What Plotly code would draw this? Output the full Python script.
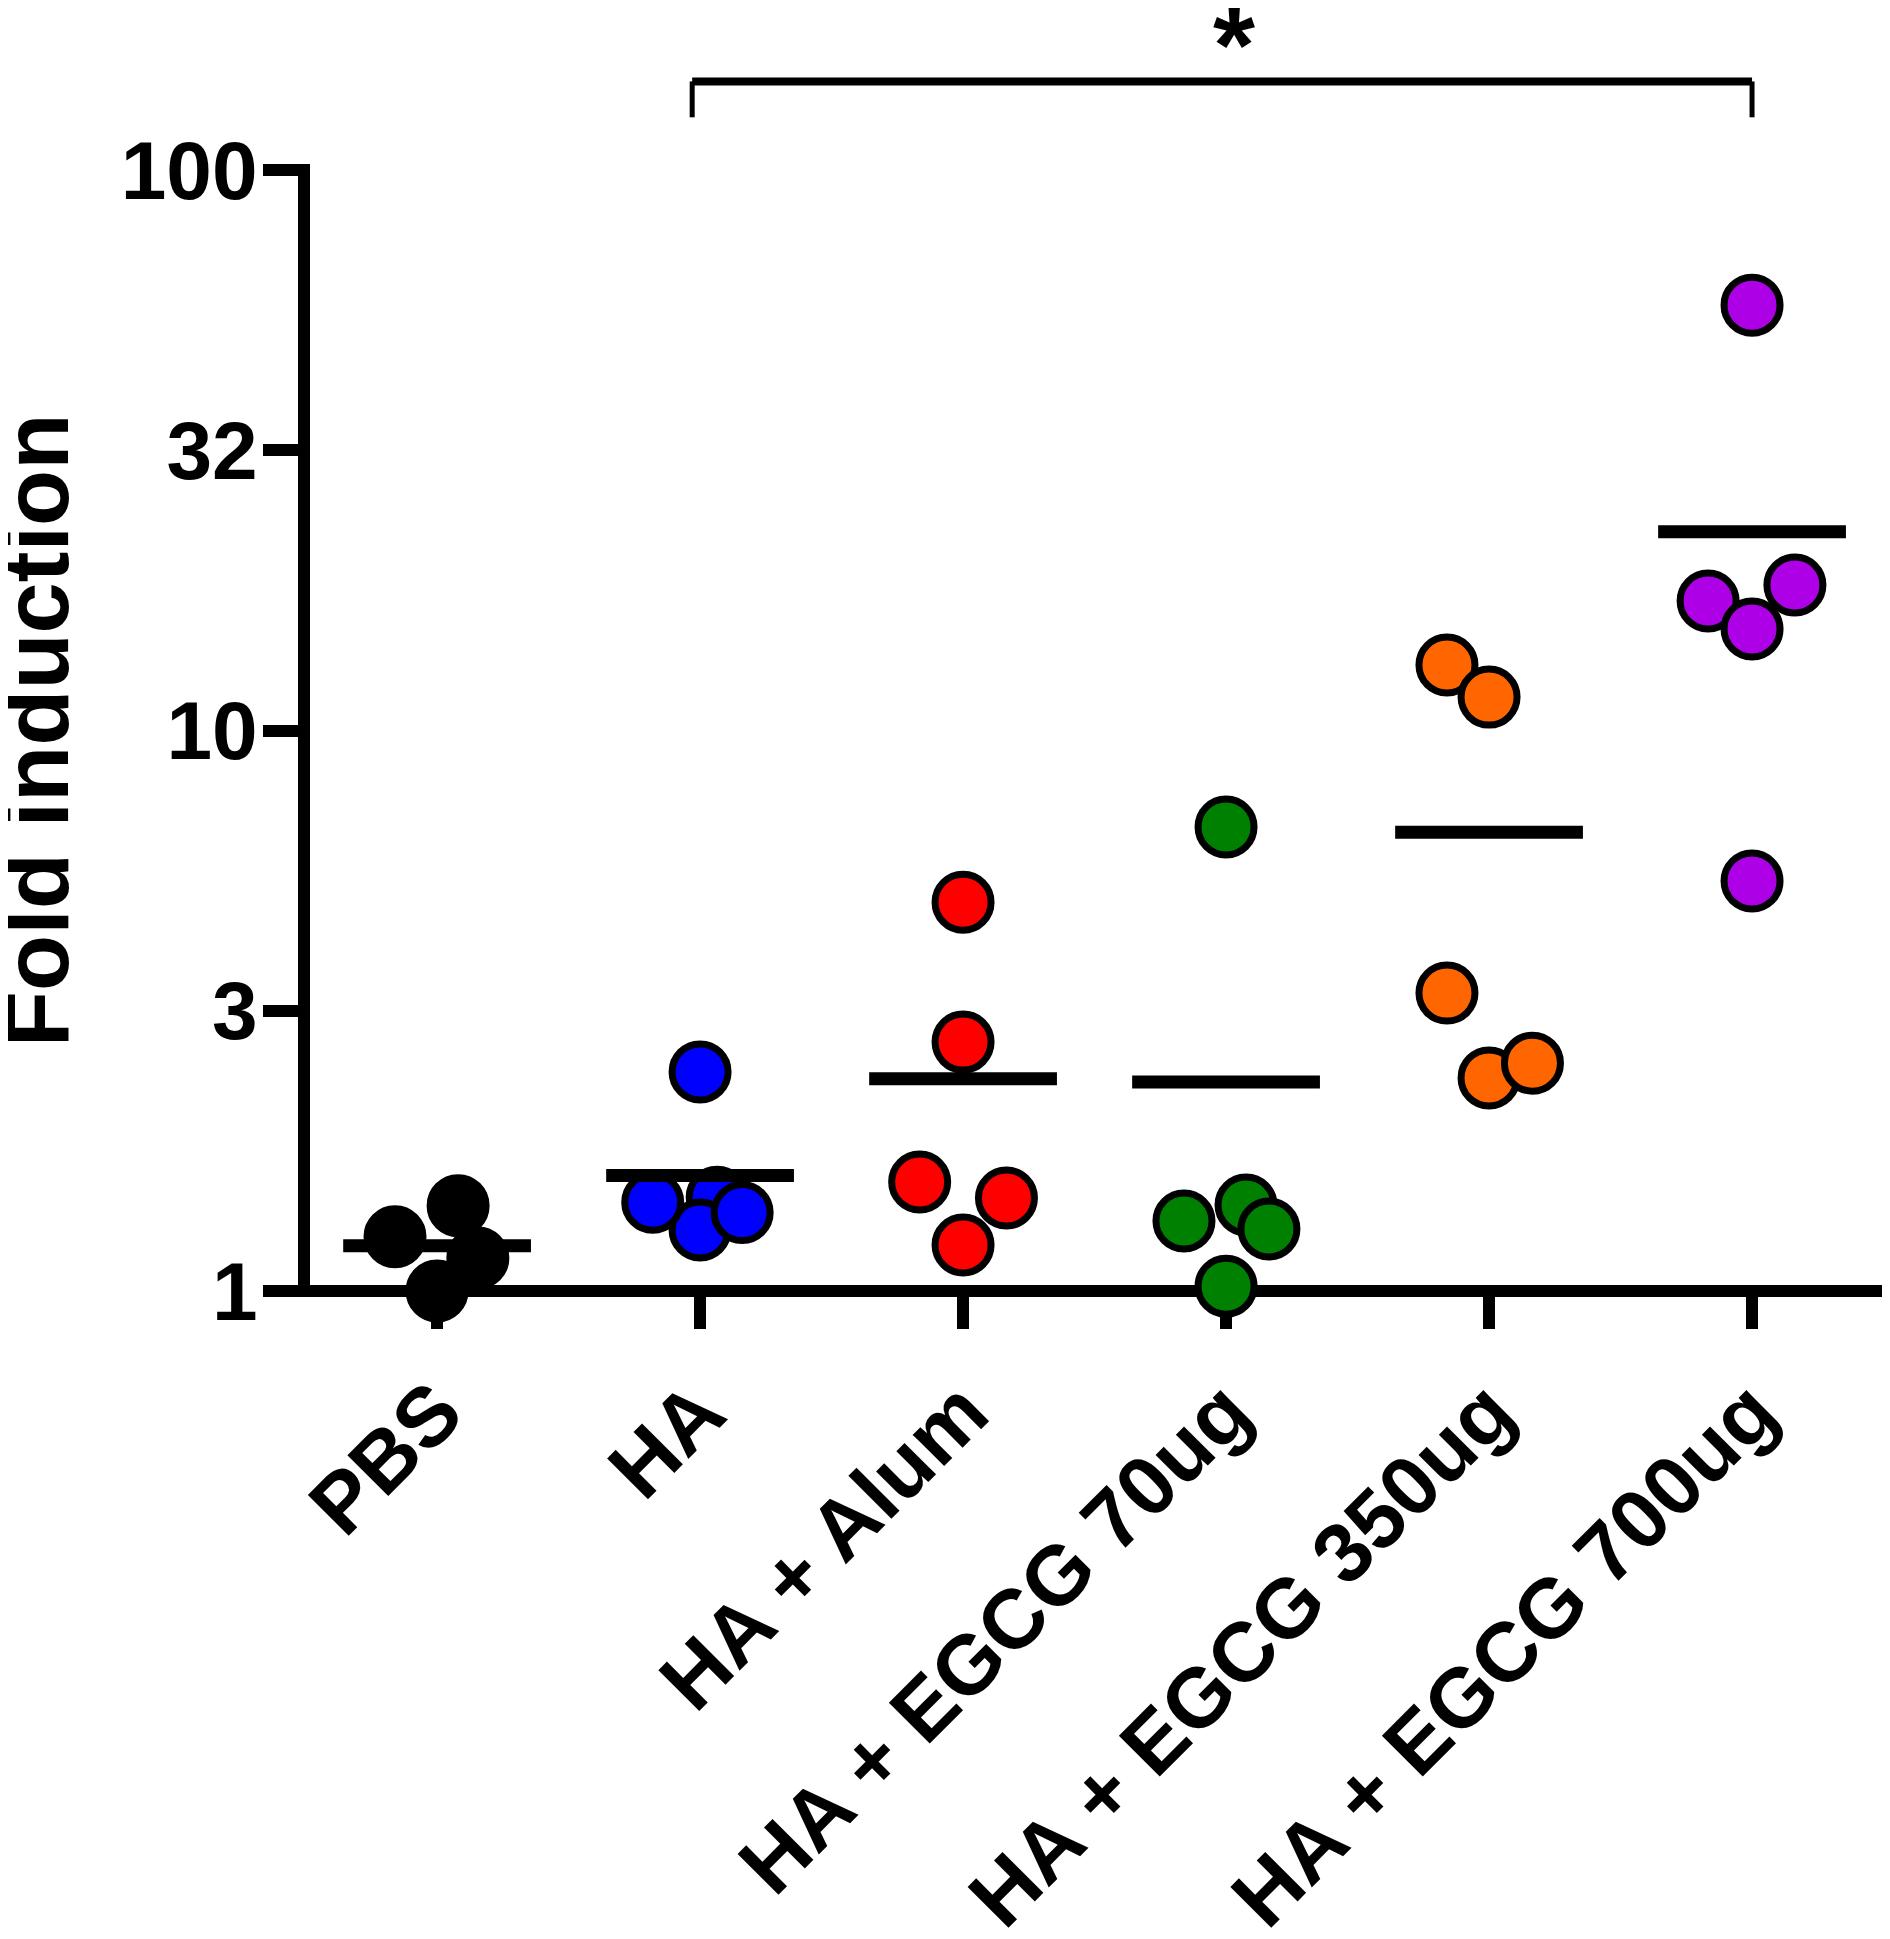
import numpy as np
import plotly.graph_objects as go

###### Data

GROUPS = ["PBS", "HA", "HA + Alum", "HA + EGCG 70ug", "HA + EGCG 350ug", "HA + EGCG 700ug"]

pbs = [1.25, 1.42, 1.145, 1.0]
ha = [1.47, 1.285, 1.44, 1.38, 2.46]
ha_alum = [4.94, 2.78, 1.565, 1.465, 1.208]
egcg_70 = [6.73, 1.424, 1.333, 1.29, 1.02]
egcg_350 = [13.09, 11.47, 3.40, 2.40, 2.55]
egcg_700 = [57.4, 17.02, 15.18, 18.18, 5.39]

# horizontal scatter offsets of each point (category units), as in the column scatter
pbs_dx = [-0.16, 0.08, 0.155, 0.0]
ha_dx = [0.065, 0.0, -0.18, 0.16, 0.0]
ha_alum_dx = [0.0, 0.0, -0.165, 0.165, 0.0]
egcg_70_dx = [0.0, 0.076, -0.16, 0.163, 0.0]
egcg_350_dx = [-0.16, 0.0, -0.16, 0.0, 0.165]
egcg_700_dx = [0.0, -0.167, 0.0, 0.163, 0.0]

Y_TICKS = [1, 3.162, 10, 31.62, 100]
Y_TICK_TEXT = ["1", "3", "10", "32", "100"]

COLORS = ["#000000", "#0000FF", "#FF0000", "#008000", "#FF6600", "#AE00E6"]

###### Plot

FONT = "Liberation Sans, Arial, sans-serif"

values = [pbs, ha, ha_alum, egcg_70, egcg_350, egcg_700]
offsets = [pbs_dx, ha_dx, ha_alum_dx, egcg_70_dx, egcg_350_dx, egcg_700_dx]

fig = go.Figure()

for i, (vals, dx) in enumerate(zip(values, offsets)):
    fig.add_trace(go.Scatter(
        x=[i + d for d in dx],
        y=vals,
        mode="markers",
        marker=dict(size=56, color=COLORS[i], line=dict(color="black", width=7)),
        cliponaxis=False,
        showlegend=False,
        hoverinfo="skip",
    ))

# mean lines
for i, vals in enumerate(values):
    m = float(np.mean(vals))
    fig.add_trace(go.Scatter(
        x=[i - 0.357, i + 0.357],
        y=[m, m],
        mode="lines",
        line=dict(color="black", width=13),
        cliponaxis=False,
        showlegend=False,
        hoverinfo="skip",
    ))

# axis lines drawn centred on the plot edges (plotly puts its own lines outside them)
fig.add_shape(type="line", xref="paper", yref="paper", x0=0, x1=0, y0=-0.0054, y1=1.0054,
              line=dict(color="black", width=12), layer="below")
fig.add_shape(type="line", xref="paper", yref="paper", x0=-0.0038, x1=1, y0=0, y1=0,
              line=dict(color="black", width=12), layer="below")

# significance bracket HA vs HA + EGCG 700ug
fig.add_shape(type="line", xref="x", yref="paper", x0=0.97, x1=5.0, y0=1.079, y1=1.079,
              line=dict(color="black", width=8))
for xb in (0.97, 5.0):
    fig.add_shape(type="line", xref="x", yref="paper", x0=xb, x1=xb, y0=1.079, y1=1.047,
                  line=dict(color="black", width=5))
fig.add_annotation(text="<b>*</b>", x=3.03, xref="x", y=1.112, yref="paper",
                   yanchor="middle", showarrow=False,
                   font=dict(family=FONT, size=108, color="black"))

# y axis title
fig.add_annotation(text="Fold induction", textangle=-90,
                   x=-0.168, xref="paper", xanchor="center",
                   y=0.5004, yref="paper", yanchor="middle", showarrow=False,
                   font=dict(family=FONT, size=92, color="black", weight="bold"))

# the page body has an 8px default margin, so the margins are 8px smaller
fig.update_layout(
    width=1890,
    height=1939,
    margin=dict(l=296, r=0, t=162, b=656),
    plot_bgcolor="white",
    paper_bgcolor="white",
    showlegend=False,
)

fig.update_xaxes(
    range=[-0.506, 5.555],
    tickvals=list(range(len(GROUPS))),
    ticktext=GROUPS,
    tickangle=-45,
    ticks="outside",
    ticklen=37,
    tickwidth=12,
    tickcolor="black",
    showline=False,
    showgrid=False,
    zeroline=False,
    layer="below traces",
    tickfont=dict(family=FONT, size=84, color="black", weight="bold"),
)

fig.update_yaxes(
    type="log",
    range=[0, 2],
    tickvals=Y_TICKS,
    ticktext=Y_TICK_TEXT,
    ticks="outside",
    ticklen=40,
    tickwidth=12,
    tickcolor="black",
    ticklabelstandoff=-11,
    showline=False,
    showgrid=False,
    zeroline=False,
    layer="below traces",
    tickfont=dict(family=FONT, size=82, color="black", weight="bold"),
)

fig.write_html("out.html")
